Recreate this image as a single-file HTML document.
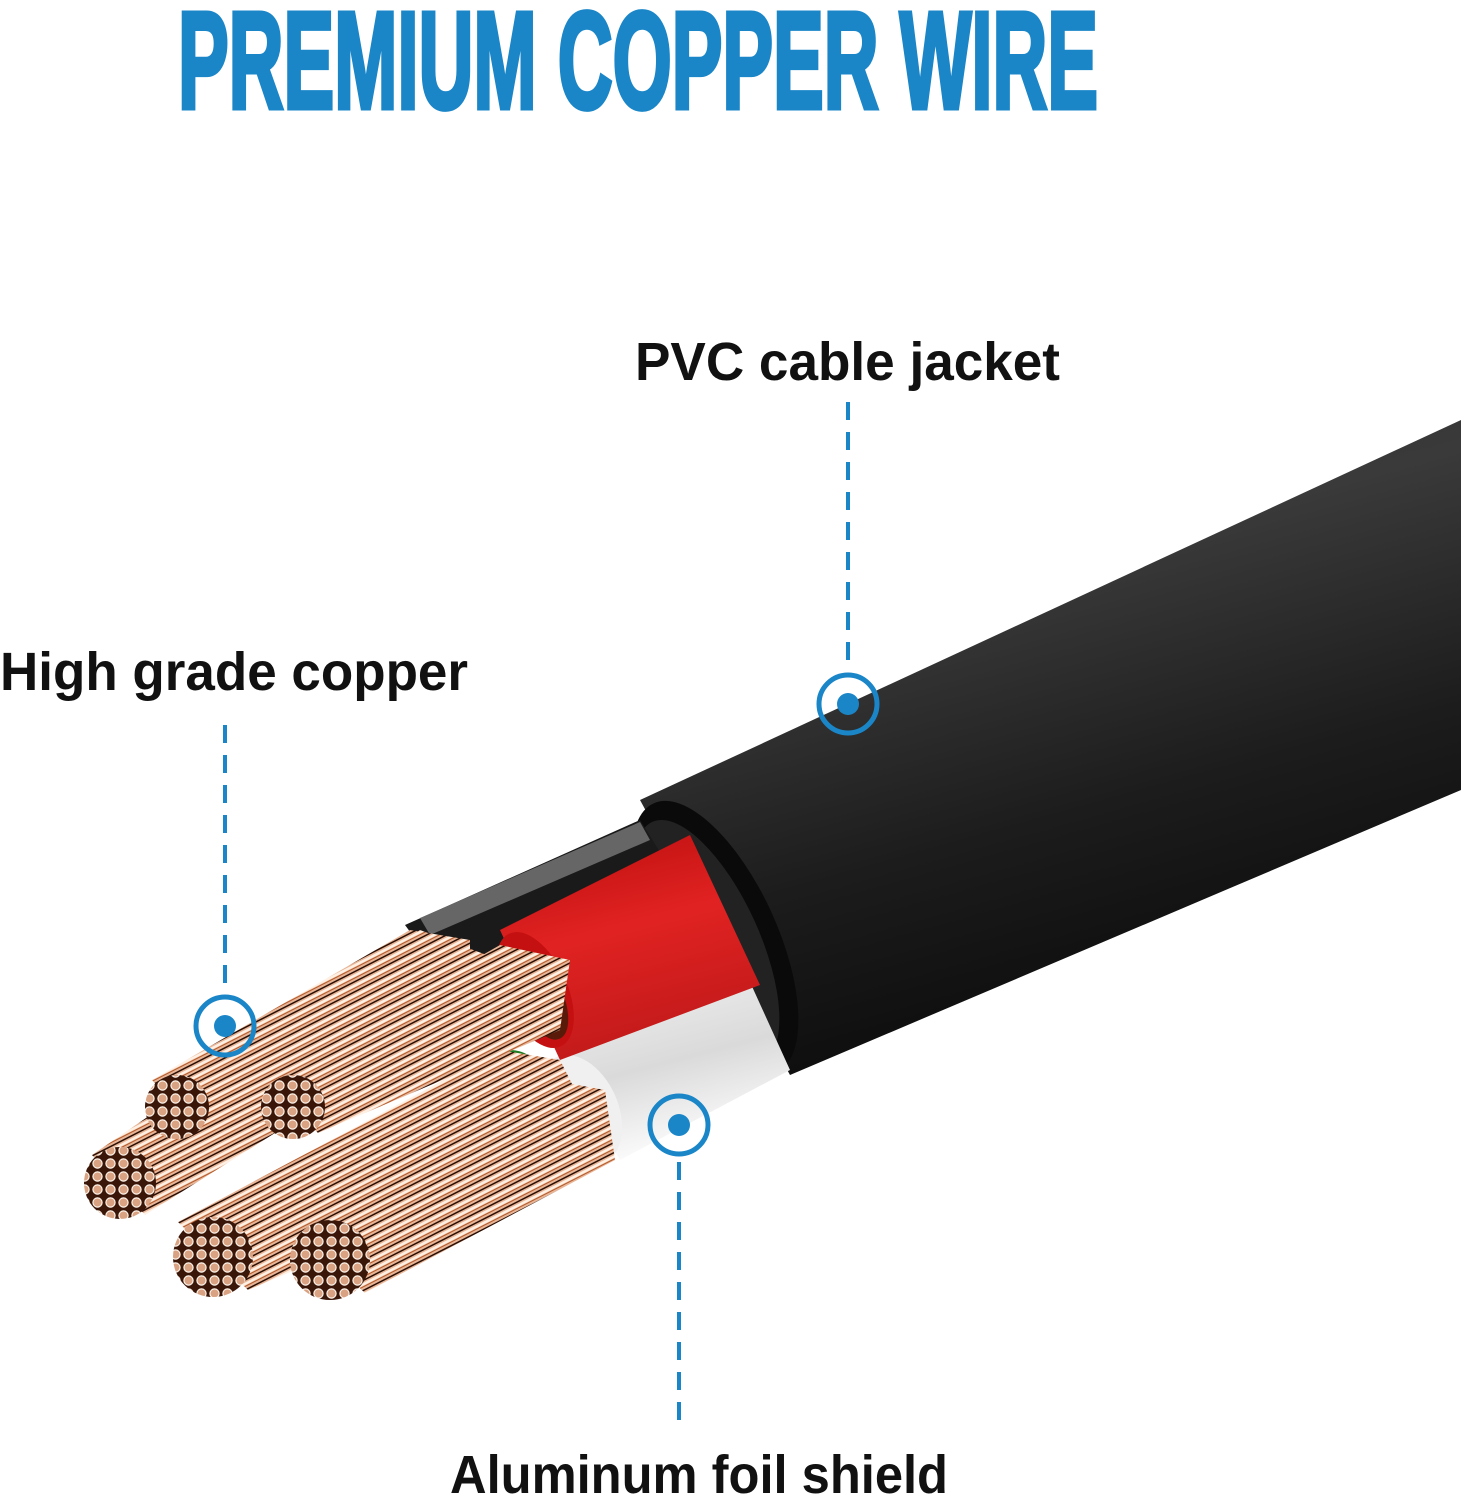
<!DOCTYPE html>
<html><head><meta charset="utf-8"><style>
html,body{margin:0;padding:0;background:#fff;}
svg{display:block}
</style></head><body>
<svg width="1461" height="1500" viewBox="0 0 1461 1500" xmlns="http://www.w3.org/2000/svg">
<defs>
<linearGradient id="jk" x1="0" y1="0" x2="0.35" y2="1">
<stop offset="0" stop-color="#2a2a2a"/><stop offset="0.35" stop-color="#3a3a3a"/><stop offset="0.7" stop-color="#1c1c1c"/><stop offset="1" stop-color="#0c0c0c"/>
</linearGradient>
<linearGradient id="rd" x1="0" y1="0" x2="0.3" y2="1">
<stop offset="0" stop-color="#b80d0d"/><stop offset="0.5" stop-color="#e12222"/><stop offset="1" stop-color="#c31a1a"/>
</linearGradient>
<linearGradient id="wh" x1="0" y1="0" x2="0.3" y2="1">
<stop offset="0" stop-color="#f6f6f6"/><stop offset="0.6" stop-color="#dadada"/><stop offset="1" stop-color="#fbfbfb"/>
</linearGradient>
<pattern id="dots" width="13" height="13" patternUnits="userSpaceOnUse">
<rect width="13" height="13" fill="#3a1608"/>
<circle cx="6.5" cy="6.5" r="5.2" fill="#fff5ec"/><circle cx="6.5" cy="6.5" r="4" fill="#d9a282"/>
</pattern>
<pattern id="str" width="9" height="9" patternUnits="userSpaceOnUse" patternTransform="rotate(-27)">
<rect width="9" height="9" fill="#e8b597"/><rect y="0" width="9" height="1.5" fill="#2a0f05"/><rect y="3" width="9" height="2.5" fill="#fff0e4"/><rect y="6" width="9" height="1" fill="#b2592a"/>
</pattern>
</defs>

<text x="178" y="108" textLength="920" lengthAdjust="spacingAndGlyphs" font-family="Liberation Sans, sans-serif" font-weight="bold" font-size="138" fill="#1a86c8" stroke="#1a86c8" stroke-width="5">PREMIUM COPPER WIRE</text>

<text x="635" y="380" textLength="425" lengthAdjust="spacingAndGlyphs" font-family="Liberation Sans, sans-serif" font-weight="bold" font-size="54" fill="#111">PVC cable jacket</text>
<text x="0" y="690" textLength="468" lengthAdjust="spacingAndGlyphs" font-family="Liberation Sans, sans-serif" font-weight="bold" font-size="54" fill="#111">High grade copper</text>
<text x="450" y="1493" textLength="498" lengthAdjust="spacingAndGlyphs" font-family="Liberation Sans, sans-serif" font-weight="bold" font-size="54" fill="#111">Aluminum foil shield</text>

<polygon points="640,800 1461,420 1461,790 790,1075" fill="url(#jk)"/>
<ellipse cx="715" cy="938" rx="62" ry="148" transform="rotate(-24.5 715 938)" fill="#0a0a0a"/>
<ellipse cx="707" cy="942" rx="52" ry="132" transform="rotate(-24.5 707 942)" fill="#222"/>

<polygon points="405,925 640,820 690,900 460,1000" fill="#1a1a1a"/>
<polygon points="420,918 640,822 650,840 430,935" fill="#666"/>
<polygon points="560,1060 740,960 790,1070 620,1160" fill="url(#wh)"/>
<ellipse cx="580" cy="1110" rx="38" ry="58" transform="rotate(-24.5 580 1110)" fill="#f0f0f0"/>
<polygon points="500,930 690,835 760,985 560,1060" fill="url(#rd)"/>
<ellipse cx="535" cy="990" rx="32" ry="62" transform="rotate(-24.5 535 990)" fill="#c41010"/>
<ellipse cx="540" cy="995" rx="22" ry="48" transform="rotate(-24.5 540 995)" fill="#5a1a0a"/>
<ellipse cx="510" cy="1075" rx="30" ry="25" fill="#1f7a20"/>

<!-- copper bundles (flared) -->
<polygon points="178,1222 248,1290 600,1140 560,1060 500,1050" fill="url(#str)"/>
<polygon points="292,1225 365,1293 615,1160 605,1090 550,1080" fill="url(#str)"/>
<polygon points="92,1155 145,1215 470,1010 500,960 420,930" fill="url(#str)"/>
<polygon points="152,1080 200,1135 470,990 470,940 410,930" fill="url(#str)"/>
<polygon points="265,1080 318,1133 560,1030 570,960 500,945" fill="url(#str)"/>
<circle cx="177" cy="1107" r="32" fill="url(#dots)"/>
<circle cx="293" cy="1107" r="32" fill="url(#dots)"/>
<circle cx="120" cy="1183" r="36" fill="url(#dots)"/>
<circle cx="213" cy="1257" r="40" fill="url(#dots)"/>
<circle cx="330" cy="1260" r="40" fill="url(#dots)"/>

<g stroke="#1a86c8" stroke-width="4" fill="none">
<line x1="848" y1="402" x2="848" y2="668" stroke-dasharray="18,12"/>
<line x1="225" y1="725" x2="225" y2="992" stroke-dasharray="18,12"/>
<line x1="679" y1="1162" x2="679" y2="1432" stroke-dasharray="18,12"/>
<circle cx="848" cy="704" r="29" stroke-width="5"/>
<circle cx="225" cy="1026" r="29" stroke-width="5"/>
<circle cx="679" cy="1125" r="29" stroke-width="5"/>
</g>
<g fill="#1a86c8">
<circle cx="848" cy="704" r="11"/><circle cx="225" cy="1026" r="11"/><circle cx="679" cy="1125" r="11"/>
</g>
</svg>
</body></html>
